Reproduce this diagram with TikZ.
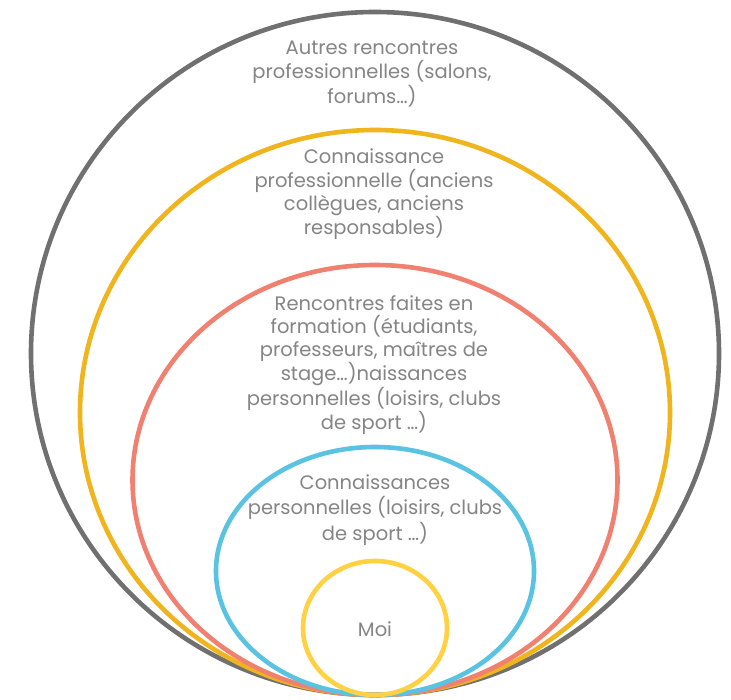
\documentclass[tikz,border=0pt]{standalone}
\usepackage{fontspec}
\setmainfont{Poppins}
\definecolor{cgray}{HTML}{707070}
\definecolor{cgold}{HTML}{F0B41C}
\definecolor{csalmon}{HTML}{F08070}
\definecolor{cblue}{HTML}{5BC3E2}
\definecolor{cyellow}{HTML}{FFD143}
\definecolor{ctext}{HTML}{858585}
\begin{document}
\begin{tikzpicture}[x=1pt,y=-1pt,
  ring/.style={line width=4.6pt},
  lbl/.style={align=center,text=ctext,inner sep=0pt,font=\fontsize{19.5}{24.5}\selectfont}]
\useasboundingbox (0,0) rectangle (731,700);
\fill[white] (0,0) rectangle (731,700);
\draw[ring,cgray] (375,353.5) ellipse [x radius=344, y radius=341.5];
\draw[ring,cgold] (375,412.5) ellipse [x radius=295, y radius=282.5];
\draw[ring,csalmon] (375,480) ellipse [x radius=242.5, y radius=215];
\draw[ring,cblue] (375,571) ellipse [x radius=159, y radius=124];
\draw[ring,cyellow] (375,628) ellipse [x radius=72, y radius=67];
\node[lbl] (t1) at (372,74) {Autres rencontres\\professionnelles (salons,\\forums…)};
\node[lbl,font=\fontsize{19.5}{23.5}\selectfont] (t2) at (374,194) {Connaissance\\professionnelle (anciens\\collègues, anciens\\responsables)};
\node[lbl,font=\fontsize{19.5}{23.2}\selectfont] (t3) at (374,365) {Rencontres faites en\\formation (étudiants,\\professeurs, maîtres de\\stage…)naissances\\personnelles (loisirs, clubs\\de sport …)};
\node[lbl,font=\fontsize{19.5}{25.5}\selectfont] (t4) at (375,510) {Connaissances\\personnelles (loisirs, clubs\\de sport …)};
\node[lbl] (t5) at (375,629) {Moi};
\end{tikzpicture}
\end{document}
